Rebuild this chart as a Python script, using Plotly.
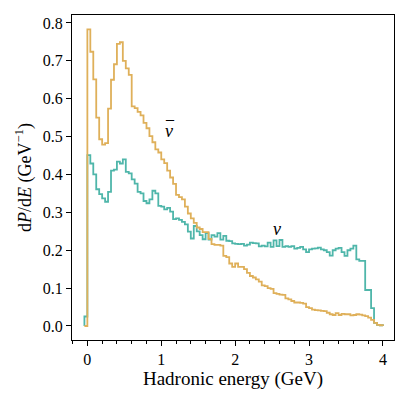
import numpy as np
import plotly.graph_objects as go

# bin width 0.04 GeV, first bin starts at -0.04
bin_width = 0.04
n_bins = 101
x_start = -0.04

# antineutrino (orange)
nubar = [0.000,
         0.783, 0.724, 0.651, 0.550, 0.493, 0.479, 0.483, 0.574, 0.650, 0.691,
         0.745, 0.749, 0.700, 0.680, 0.663, 0.580, 0.575, 0.565, 0.556, 0.536,
         0.522, 0.501, 0.485, 0.466, 0.458, 0.440, 0.430, 0.410, 0.392, 0.375,
         0.346, 0.340, 0.334, 0.315, 0.297, 0.284, 0.272, 0.260, 0.256, 0.248,
         0.248, 0.230, 0.216, 0.214, 0.214, 0.212, 0.185, 0.182, 0.165, 0.156,
         0.165, 0.156, 0.156, 0.150, 0.140, 0.132, 0.128, 0.123, 0.117, 0.107,
         0.105, 0.100, 0.098, 0.087, 0.085, 0.083, 0.082, 0.073, 0.070, 0.066,
         0.062, 0.062, 0.061, 0.059, 0.050, 0.047, 0.043, 0.042, 0.041, 0.040,
         0.039, 0.035, 0.031, 0.029, 0.034, 0.029, 0.032, 0.031, 0.031, 0.028,
         0.029, 0.031, 0.030, 0.028, 0.026, 0.022, 0.016, 0.008, 0.003, 0.002]

# neutrino (teal)
nu = [0.025,
      0.451, 0.429, 0.400, 0.361, 0.348, 0.337, 0.328, 0.354, 0.410, 0.413,
      0.434, 0.429, 0.440, 0.407, 0.403, 0.387, 0.376, 0.354, 0.350, 0.330,
      0.324, 0.334, 0.357, 0.350, 0.317, 0.315, 0.308, 0.312, 0.302, 0.282,
      0.284, 0.280, 0.275, 0.268, 0.249, 0.231, 0.264, 0.250, 0.240, 0.229,
      0.245, 0.228, 0.240, 0.236, 0.245, 0.228, 0.238, 0.225, 0.224, 0.218,
      0.217, 0.216, 0.217, 0.212, 0.215, 0.220, 0.219, 0.218, 0.210, 0.212,
      0.210, 0.220, 0.209, 0.226, 0.211, 0.227, 0.209, 0.211, 0.209, 0.211,
      0.204, 0.206, 0.209, 0.202, 0.195, 0.202, 0.204, 0.205, 0.207, 0.202,
      0.200, 0.195, 0.186, 0.200, 0.204, 0.206, 0.195, 0.185, 0.200, 0.204,
      0.212, 0.176, 0.172, 0.172, 0.095, 0.095, 0.047, 0.008, 0.003, 0.002]

edges = x_start + bin_width * np.arange(n_bins + 1)


def step_xy(vals):
    # matplotlib-like 'step' histogram outline
    x = np.concatenate([[edges[0]], edges, [edges[-1]]])
    y = np.concatenate([[0], vals, [vals[-1]], [0]])
    return x, y


c_nu = '#4fb6aa'
c_nubar = '#dfb05a'
font = 'Liberation Serif'

fig = go.Figure()
for vals, col in [(nu, c_nu), (nubar, c_nubar)]:
    x, y = step_xy(np.array(vals))
    fig.add_trace(go.Scatter(x=x, y=y, mode='lines', line_shape='hv',
                             line=dict(color=col, width=1.8), showlegend=False))

# labels: nu-bar drawn as nu plus a bar above it
fig.add_annotation(x=1.11, y=0.515, text='<i>ν</i>', showarrow=False,
                   font=dict(family=font, size=18, color='black'))
fig.add_annotation(x=1.125, y=0.524, text='¯', showarrow=False,
                   font=dict(family=font, size=16, color='black'))
fig.add_annotation(x=2.56, y=0.256, text='<i>ν</i>', showarrow=False,
                   font=dict(family=font, size=18, color='black'))

# page body keeps its default 8px margin, so the figure is sized to fill the rest
fig.update_layout(
    width=407, height=387,
    margin=dict(l=64, r=21, t=7, b=55),
    plot_bgcolor='white', paper_bgcolor='white',
    font=dict(family=font, size=16, color='black'),
    xaxis=dict(range=[-0.208, 4.15], showline=True, mirror=True, linecolor='black',
               linewidth=1, showgrid=False, zeroline=False, automargin=False,
               tickmode='array', tickvals=[0, 1, 2, 3, 4],
               ticks='outside', ticklen=5, tickcolor='black',
               minor=dict(dtick=0.2, tick0=0, ticks='outside', ticklen=3, tickcolor='black'),
               title=dict(text='Hadronic energy (GeV)', font=dict(size=19), standoff=4)),
    yaxis=dict(range=[-0.037, 0.821], showline=True, mirror=True, linecolor='black',
               linewidth=1, showgrid=False, zeroline=False, automargin=False,
               tickmode='array', tickvals=[0, 0.1, 0.2, 0.3, 0.4, 0.5, 0.6, 0.7, 0.8],
               tickformat='.1f', ticks='outside', ticklen=5, tickcolor='black',
               title=dict(text='d<i>P</i>/d<i>E</i> (GeV<sup>−1</sup>)', font=dict(size=18),
                          standoff=6)),
)

fig.write_html("out.html")
